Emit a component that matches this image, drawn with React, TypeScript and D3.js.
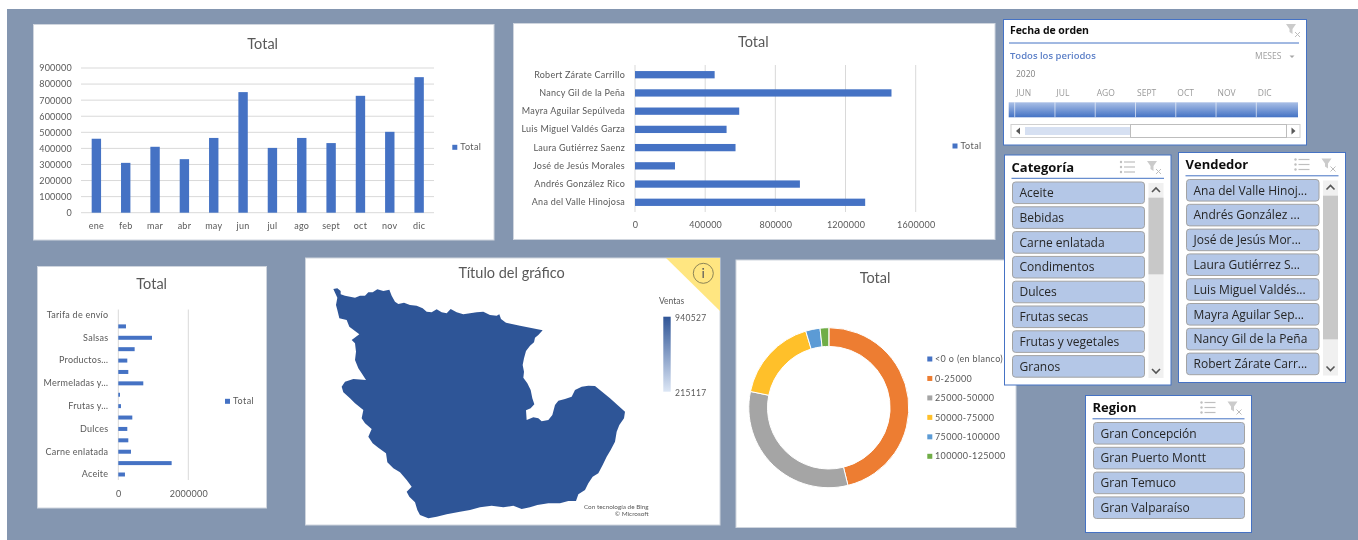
import { useEffect, useRef } from 'react';
import * as d3 from 'd3';

const months = ['ene', 'feb', 'mar', 'abr', 'may', 'jun', 'jul', 'ago', 'sept', 'oct', 'nov', 'dic'];
const monthTotals = [460000, 310000, 410000, 333000, 465000, 750000, 403000, 465000, 433000, 727000, 503000, 843000];

const sellers = [
  'Ana del Valle Hinojosa',
  'Andrés González Rico',
  'José de Jesús Morales',
  'Laura Gutiérrez Saenz',
  'Luis Miguel Valdés Garza',
  'Mayra Aguilar Sepúlveda',
  'Nancy Gil de la Peña',
  'Robert Zárate Carrillo',
];
const sellerTotals = [1312000, 940000, 228000, 573000, 522000, 594000, 1462000, 454000];
const sellerTicks = [0, 400000, 800000, 1200000, 1600000];

// solo se ven las etiquetas alternas, las otras quedan ocultas como en Excel
const categories = [
  'Aceite', 'Bebidas', 'Carne enlatada', 'Condimentos', 'Dulces', 'Frutas secas', 'Frutas y…', 'Granos',
  'Mermeladas y…', 'Pasta', 'Productos…', 'Productos lácteos', 'Salsas', 'Sopas', 'Tarifa de envío',
];
const categoryTotals = [190000, 1524000, 362000, 286000, 257000, 400000, 76000, 48000, 714000, 286000, 257000, 467000, 962000, 219000, 0];

const ranges = ['<0 o (en blanco)', '0-25000', '25000-50000', '50000-75000', '75000-100000', '100000-125000'];
const rangeShares = [0.05, 46.1, 32.1, 17.1, 2.9, 1.75];
const rangeColors = ['#4472C4', '#ED7D31', '#A5A5A5', '#FFC02A', '#5B9BD5', '#70AD47'];

// contorno de la región, en unidades propias del mapa
const regionOutline: [number, number][] = [
  [100, 102], [112, 100], [122, 108], [122, 118], [135, 122], [150, 125], [165, 128], [180, 122], [195, 122], [205, 112],
  [218, 112], [232, 103], [250, 108], [268, 104], [275, 122], [285, 140], [295, 147], [312, 143], [330, 150], [350, 152],
  [368, 160], [380, 170], [395, 172], [410, 163], [425, 172], [440, 175], [452, 162], [470, 172], [490, 178], [510, 175],
  [530, 172], [550, 170], [570, 180], [590, 182], [598, 178], [603, 192], [618, 203], [660, 212], [728, 226], [715, 240],
  [705, 248], [702, 262], [690, 272], [678, 288], [672, 310], [668, 330], [672, 350], [670, 368], [682, 385], [692, 405],
  [697, 430], [703, 448], [692, 460], [678, 466], [680, 495], [700, 487], [715, 490], [725, 499], [745, 495], [757, 480],
  [765, 450], [775, 437], [795, 432], [815, 425], [825, 405], [845, 395], [865, 392], [885, 393], [930, 430], [975, 470],
  [972, 490], [958, 510], [950, 530], [945, 560], [932, 585], [920, 605], [908, 630], [895, 655], [878, 665], [865, 685],
  [855, 705], [835, 718], [828, 738], [805, 738], [780, 745], [745, 745], [712, 750], [690, 757], [665, 762], [640, 752],
  [610, 757], [575, 752], [540, 757], [510, 765], [480, 770], [440, 778], [410, 785], [385, 790], [360, 780], [352, 765],
  [345, 742], [328, 725], [320, 710], [335, 695], [320, 675], [300, 652], [280, 640], [262, 622], [258, 595], [235, 578],
  [218, 565], [205, 545], [215, 522], [195, 505], [185, 490], [190, 465], [165, 445], [150, 430], [130, 412], [125, 395],
  [135, 380], [160, 372], [198, 375], [185, 355], [175, 340], [165, 315], [168, 290], [165, 265], [155, 255], [178, 238],
  [165, 228], [148, 215], [140, 195], [118, 190], [112, 165], [108, 150], [112, 128],
];
const salesRange = [215117, 940527];

const timelineMonths = ['JUN', 'JUL', 'AGO', 'SEPT', 'OCT', 'NOV', 'DIC'];
const categoryItems = ['Aceite', 'Bebidas', 'Carne enlatada', 'Condimentos', 'Dulces', 'Frutas secas', 'Frutas y vegetales', 'Granos'];
const sellerItems = [
  'Ana del Valle Hinoj...', 'Andrés González ...', 'José de Jesús Mor...', 'Laura Gutiérrez S...',
  'Luis Miguel Valdés...', 'Mayra Aguilar Sep...', 'Nancy Gil de la Peña', 'Robert Zárate Carr...',
];
const regionItems = ['Gran Concepción', 'Gran Puerto Montt', 'Gran Temuco', 'Gran Valparaíso'];

const FONT = 'Lato, "Open Sans", sans-serif';
const SLICER_FONT = '"Open Sans", "DejaVu Sans", sans-serif';
const GRAY = '#595959';
const BLUE = '#4472C4';
const GRID = '#D9D9D9';

type G = d3.Selection<SVGGElement, unknown, null, undefined>;

function panel(g: G, x0: number, y0: number, x1: number, y1: number) {
  g.append('rect').attr('x', x0).attr('y', y0).attr('width', x1 - x0).attr('height', y1 - y0)
    .attr('fill', '#fff').attr('stroke', '#CFD5DE').attr('stroke-width', 1);
}

function label(g: G, x: number, y: number, text: string, size: number, color = GRAY, anchor = 'start', weight = 400, font = FONT) {
  return g.append('text').attr('x', x).attr('y', y).attr('dy', '0.35em').attr('text-anchor', anchor)
    .attr('font-family', font).attr('font-size', size).attr('font-weight', weight).attr('fill', color).text(text);
}

function styleAxis(a: G, size: number) {
  a.selectAll('.tick line').remove();
  a.select('.domain').remove();
  a.selectAll('text').attr('fill', GRAY).attr('font-family', FONT).attr('font-size', size).attr('letter-spacing', 0.25);
}

function legendTotal(g: G, x: number, y: number) {
  g.append('rect').attr('x', x).attr('y', y - 2.5).attr('width', 5).attr('height', 5).attr('fill', BLUE);
  label(g, x + 8, y, 'Total', 9, GRAY).attr('letter-spacing', 0.4);
}

function filterIcon(g: G, x: number, y: number) {
  g.append('path').attr('d', d3.line()([[x, y], [x + 10, y], [x + 6.5, y + 5], [x + 6.5, y + 10], [x + 3.5, y + 8], [x + 3.5, y + 5]]) + 'Z').attr('fill', '#CBCBCB');
  g.append('path').attr('d', `M${x + 9},${y + 8}l5,5m0,-5l-5,5`).attr('stroke', '#BDBDBD').attr('stroke-width', 1).attr('fill', 'none');
}

function drawMonthChart(g: G) {
  panel(g, 33.5, 24.5, 494, 240);
  label(g, 262.7, 44, 'Total', 14.5, GRAY, 'middle');
  const x = d3.scaleBand().domain(months).range([81.7, 433.8]).paddingInner(0.68).paddingOuter(0.34);
  const y = d3.scaleLinear().domain([0, 900000]).range([212.7, 68]);
  g.append('g').selectAll('line').data(y.ticks(9)).join('line')
    .attr('x1', 81).attr('x2', 434).attr('y1', (d) => y(d)).attr('y2', (d) => y(d)).attr('stroke', GRID);
  g.append('g').selectAll('rect').data(monthTotals).join('rect')
    .attr('x', (_, i) => x(months[i]) as number).attr('y', (d) => y(d))
    .attr('width', x.bandwidth()).attr('height', (d) => y(0) - y(d)).attr('fill', BLUE);
  const ay = g.append('g').attr('transform', 'translate(81,0)')
    .call(d3.axisLeft(y).ticks(9).tickSize(0).tickPadding(9).tickFormat((d) => String(d))) as unknown as G;
  styleAxis(ay, 9);
  const ax = g.append('g').attr('transform', 'translate(0,212.7)')
    .call(d3.axisBottom(x).tickSize(0).tickPadding(10)) as unknown as G;
  styleAxis(ax, 9);
  legendTotal(g, 452.3, 147.3);
}

function drawSellerChart(g: G) {
  panel(g, 513.5, 23.5, 995, 239.5);
  label(g, 753.3, 41.7, 'Total', 14.5, GRAY, 'middle');
  const x = d3.scaleLinear().domain([0, 1600000]).range([635, 915.7]);
  const y = d3.scaleBand().domain(sellers).range([211.4, 65.6]).paddingInner(0.6).paddingOuter(0.3);
  g.append('g').selectAll('line').data(sellerTicks).join('line')
    .attr('x1', (d) => x(d)).attr('x2', (d) => x(d)).attr('y1', 65).attr('y2', 212).attr('stroke', GRID);
  g.append('g').selectAll('rect').data(sellerTotals).join('rect')
    .attr('x', x(0)).attr('y', (_, i) => y(sellers[i]) as number)
    .attr('width', (d) => x(d) - x(0)).attr('height', y.bandwidth()).attr('fill', BLUE);
  const ay = g.append('g').attr('transform', 'translate(635,0)')
    .call(d3.axisLeft(y).tickSize(0).tickPadding(10)) as unknown as G;
  styleAxis(ay, 9);
  const ax = g.append('g').attr('transform', 'translate(0,212)')
    .call(d3.axisBottom(x).tickValues(sellerTicks).tickSize(0).tickPadding(10).tickFormat((d) => String(d))) as unknown as G;
  styleAxis(ax, 9);
  legendTotal(g, 952.5, 146);
}

function drawCategoryChart(g: G) {
  panel(g, 37.5, 266.5, 266.5, 508);
  label(g, 151.7, 284.3, 'Total', 14.5, GRAY, 'middle');
  const x = d3.scaleLinear().domain([0, 2000000]).range([118.3, 188.3]);
  const y = d3.scaleBand().domain(categories).range([480.2, 309.3]).paddingInner(0.65).paddingOuter(0.325);
  g.append('g').selectAll('line').data(x.ticks(1)).join('line')
    .attr('x1', (d) => x(d)).attr('x2', (d) => x(d)).attr('y1', 309.5).attr('y2', 480).attr('stroke', GRID);
  g.append('g').selectAll('rect').data(categoryTotals).join('rect')
    .attr('x', x(0)).attr('y', (_, i) => y(categories[i]) as number)
    .attr('width', (d) => x(d) - x(0)).attr('height', y.bandwidth()).attr('fill', BLUE);
  const ay = g.append('g').attr('transform', 'translate(118.3,0)')
    .call(d3.axisLeft(y).tickValues(categories.filter((_, i) => i % 2 === 0)).tickSize(0).tickPadding(10)) as unknown as G;
  styleAxis(ay, 9);
  const ax = g.append('g').attr('transform', 'translate(0,480)')
    .call(d3.axisBottom(x).ticks(1).tickSize(0).tickPadding(11).tickFormat((d) => String(d))) as unknown as G;
  styleAxis(ax, 9);
  legendTotal(g, 225, 401.3);
}

function drawMap(g: G, defs: d3.Selection<SVGDefsElement, unknown, null, undefined>) {
  panel(g, 305.5, 258, 720, 525);
  label(g, 511.7, 273, 'Título del gráfico', 14.5, GRAY, 'middle');
  const mx = d3.scaleLinear().domain([0, 1290]).range([300, 730]);
  const my = d3.scaleLinear().domain([0, 825]).range([255, 530]);
  const line = d3.line<[number, number]>().x((d) => mx(d[0])).y((d) => my(d[1])).curve(d3.curveLinearClosed);
  g.append('path').attr('d', line(regionOutline)).attr('fill', '#2F5597');

  g.append('path').attr('d', d3.line()([[666, 258], [720, 258], [720, 311]]) + 'Z').attr('fill', '#FFE681');
  g.append('circle').attr('cx', 703.3).attr('cy', 273.3).attr('r', 10).attr('fill', 'none').attr('stroke', '#8C8456').attr('stroke-width', 1);
  label(g, 703.3, 273.5, 'i', 14, '#595959', 'middle');

  label(g, 659, 301, 'Ventas', 8.5);
  const grad = defs.append('linearGradient').attr('id', 'sales').attr('x1', 0).attr('x2', 0).attr('y1', 0).attr('y2', 1);
  grad.append('stop').attr('offset', '0%').attr('stop-color', '#2F5597');
  grad.append('stop').attr('offset', '100%').attr('stop-color', '#DCE6F5');
  const c = d3.scaleLinear().domain(salesRange).range([391.7, 316.7]);
  g.append('rect').attr('x', 663.3).attr('y', c(salesRange[1])).attr('width', 7.4)
    .attr('height', c(salesRange[0]) - c(salesRange[1])).attr('fill', 'url(#sales)');
  label(g, 675, c(salesRange[1]) + 1, String(salesRange[1]), 8.5).attr('letter-spacing', 0.3);
  label(g, 675, c(salesRange[0]) + 1, String(salesRange[0]), 8.5).attr('letter-spacing', 0.3);
  label(g, 648.7, 506.5, 'Con tecnología de Bing', 6.4, GRAY, 'end');
  label(g, 648.7, 514, '© Microsoft', 6.4, GRAY, 'end');
}

function drawDonut(g: G) {
  panel(g, 736, 260, 1016, 527.5);
  label(g, 875, 278, 'Total', 14.5, GRAY, 'middle');
  const pie = d3.pie<number>().sort(null).value((d) => d);
  const arc = d3.arc<d3.PieArcDatum<number>>().innerRadius(61.3).outerRadius(80);
  g.append('g').attr('transform', 'translate(828.8,407.7)').selectAll('path').data(pie(rangeShares)).join('path')
    .attr('d', arc).attr('fill', (_, i) => rangeColors[i]).attr('stroke', '#fff').attr('stroke-width', 1);
  const ly = d3.scalePoint().domain(ranges).range([359, 456.3]);
  ranges.forEach((r, i) => {
    const y = ly(r) as number;
    g.append('rect').attr('x', 927.3).attr('y', y - 2.5).attr('width', 5).attr('height', 5).attr('fill', rangeColors[i]);
    label(g, 935, y, r, 9).attr('letter-spacing', 0.35);
  });
}

function drawTimeline(g: G, defs: d3.Selection<SVGDefsElement, unknown, null, undefined>) {
  g.append('rect').attr('x', 1003.5).attr('y', 19.5).attr('width', 303).attr('height', 125.5)
    .attr('fill', '#fff').attr('stroke', BLUE).attr('stroke-width', 1);
  label(g, 1010, 30, 'Fecha de orden', 10.5, '#111', 'start', 700, SLICER_FONT).attr('textLength', 79);
  filterIcon(g, 1286, 24);
  g.append('line').attr('x1', 1009).attr('x2', 1299).attr('y1', 43).attr('y2', 43).attr('stroke', BLUE);
  label(g, 1010, 55.5, 'Todos los periodos', 9.5, '#5B7FC7', 'start', 600, SLICER_FONT);
  label(g, 1255, 56, 'MESES', 8.5, '#A0A0A0', 'start', 400, SLICER_FONT);
  g.append('path').attr('d', d3.line()([[1289.5, 55.5], [1294.5, 55.5], [1292, 58]]) + 'Z').attr('fill', '#A6A6A6');
  label(g, 1016, 74, '2020', 8.5, '#808080', 'start', 400, SLICER_FONT);

  const grad = defs.append('linearGradient').attr('id', 'tl').attr('x1', 0).attr('x2', 0).attr('y1', 0).attr('y2', 1);
  grad.append('stop').attr('offset', '0%').attr('stop-color', '#A9BFE6');
  grad.append('stop').attr('offset', '100%').attr('stop-color', '#4472C4');
  g.append('rect').attr('x', 1008.7).attr('y', 102.3).attr('width', 289.3).attr('height', 15).attr('fill', 'url(#tl)');

  const x = d3.scalePoint().domain(timelineMonths).range([1014.7, 1256.3]);
  timelineMonths.forEach((m) => {
    const px = x(m) as number;
    label(g, px + 1.5, 93, m, 8.5, '#999', 'start', 400, SLICER_FONT);
    g.append('line').attr('x1', px).attr('x2', px).attr('y1', 102.3).attr('y2', 117.3).attr('stroke', '#fff').attr('stroke-opacity', 0.6);
  });

  g.append('rect').attr('x', 1011).attr('y', 124.5).attr('width', 289).attr('height', 13).attr('fill', '#fff').attr('stroke', '#D0D0D0');
  g.append('rect').attr('x', 1025).attr('y', 127).attr('width', 105).attr('height', 8).attr('fill', '#D6E0F2');
  g.append('rect').attr('x', 1130.5).attr('y', 124.5).attr('width', 156).attr('height', 13).attr('fill', '#fff').attr('stroke', '#BDBDBD');
  g.append('path').attr('d', d3.line()([[1020, 127.5], [1020, 134.5], [1016, 131]]) + 'Z').attr('fill', '#595959');
  g.append('path').attr('d', d3.line()([[1291.5, 127.5], [1291.5, 134.5], [1295.5, 131]]) + 'Z').attr('fill', '#595959');
}

interface SlicerBox {
  left: number;
  right: number;
  top: number;
  bottom: number;
  title: string;
  items: string[];
  thumb?: [number, number];
}

function drawSlicer(g: G, b: SlicerBox) {
  g.append('rect').attr('x', b.left).attr('y', b.top).attr('width', b.right - b.left).attr('height', b.bottom - b.top)
    .attr('fill', '#fff').attr('stroke', BLUE).attr('stroke-width', 1);
  const scroll = b.thumb ? 19.5 : 0;
  const inner = b.left + 7;
  label(g, inner, b.top + 12, b.title, 13, '#111', 'start', 700, SLICER_FONT);
  g.append('line').attr('x1', inner).attr('x2', b.right - 7).attr('y1', b.top + 23.3).attr('y2', b.top + 23.3).attr('stroke', BLUE);

  // iconos de selección múltiple y borrar filtro
  const ix = b.right - 52;
  [7, 12, 17].forEach((dy) => {
    g.append('line').attr('x1', ix + 5).attr('x2', ix + 16).attr('y1', b.top + dy).attr('y2', b.top + dy).attr('stroke', '#BFBFBF').attr('stroke-width', 1.2);
    g.append('circle').attr('cx', ix + 2).attr('cy', b.top + dy).attr('r', 1.2).attr('fill', '#BFBFBF');
  });
  filterIcon(g, b.right - 24, b.top + 6);

  const pitch = 24.8;
  const y = d3.scaleBand().domain(b.items).range([b.top + 25.4, b.top + 25.4 + b.items.length * pitch]).paddingInner(0.13).paddingOuter(0.065);
  b.items.forEach((item) => {
    const py = y(item) as number;
    g.append('rect').attr('x', inner + 1).attr('y', py).attr('width', b.right - b.left - 15 - scroll).attr('height', y.bandwidth())
      .attr('rx', 3).attr('fill', '#B4C7E7').attr('stroke', '#A3A3A3').attr('stroke-width', 1);
    label(g, inner + 8, py + y.bandwidth() / 2, item, 12, '#262626', 'start', 400, SLICER_FONT);
  });

  if (b.thumb) {
    const sx = b.right - 22.5;
    const top = b.top + 28;
    const bot = b.bottom - 7;
    g.append('rect').attr('x', sx).attr('y', top).attr('width', 15).attr('height', bot - top).attr('fill', '#F0F0F0');
    g.append('rect').attr('x', sx).attr('y', b.thumb[0]).attr('width', 15).attr('height', b.thumb[1] - b.thumb[0]).attr('fill', '#C8C8C8');
    const cx = sx + 7.5;
    g.append('path').attr('d', d3.line()([[cx - 4, top + 9], [cx, top + 5], [cx + 4, top + 9]])).attr('fill', 'none').attr('stroke', '#555').attr('stroke-width', 1.6);
    g.append('path').attr('d', d3.line()([[cx - 4, bot - 9], [cx, bot - 5], [cx + 4, bot - 9]])).attr('fill', 'none').attr('stroke', '#555').attr('stroke-width', 1.6);
  }
}

export default function App() {
  const svgRef = useRef<SVGSVGElement>(null);

  useEffect(() => {
    if (!svgRef.current) return;
    const svg = d3.select(svgRef.current);
    svg.selectAll('*').remove();
    const defs = svg.append('defs');
    const blur = defs.append('filter').attr('id', 'soft').attr('x', 0).attr('y', 0).attr('width', 1).attr('height', 1);
    blur.append('feGaussianBlur').attr('stdDeviation', 0.5);

    const root = svg.append('g').attr('filter', 'url(#soft)') as unknown as G;
    root.append('rect').attr('x', 0).attr('y', 0).attr('width', 1358).attr('height', 540).attr('fill', '#fff');
    root.append('rect').attr('x', 7).attr('y', 9).attr('width', 1351).attr('height', 531).attr('fill', '#8496B0');

    drawMonthChart(root);
    drawSellerChart(root);
    drawCategoryChart(root);
    drawMap(root, defs);
    drawDonut(root);
    drawTimeline(root, defs);
    drawSlicer(root, { left: 1004.5, right: 1171, top: 155, bottom: 385, title: 'Categoría', items: categoryItems, thumb: [197.7, 274.3] });
    drawSlicer(root, { left: 1178.5, right: 1345.5, top: 152.5, bottom: 382.5, title: 'Vendedor', items: sellerItems, thumb: [195.7, 339.3] });
    drawSlicer(root, { left: 1085.5, right: 1251.5, top: 395.5, bottom: 532.5, title: 'Region', items: regionItems });
  }, []);

  return <svg ref={svgRef} width={1358} height={540} style={{ position: 'absolute', left: 0, top: 0 }} />;
}
